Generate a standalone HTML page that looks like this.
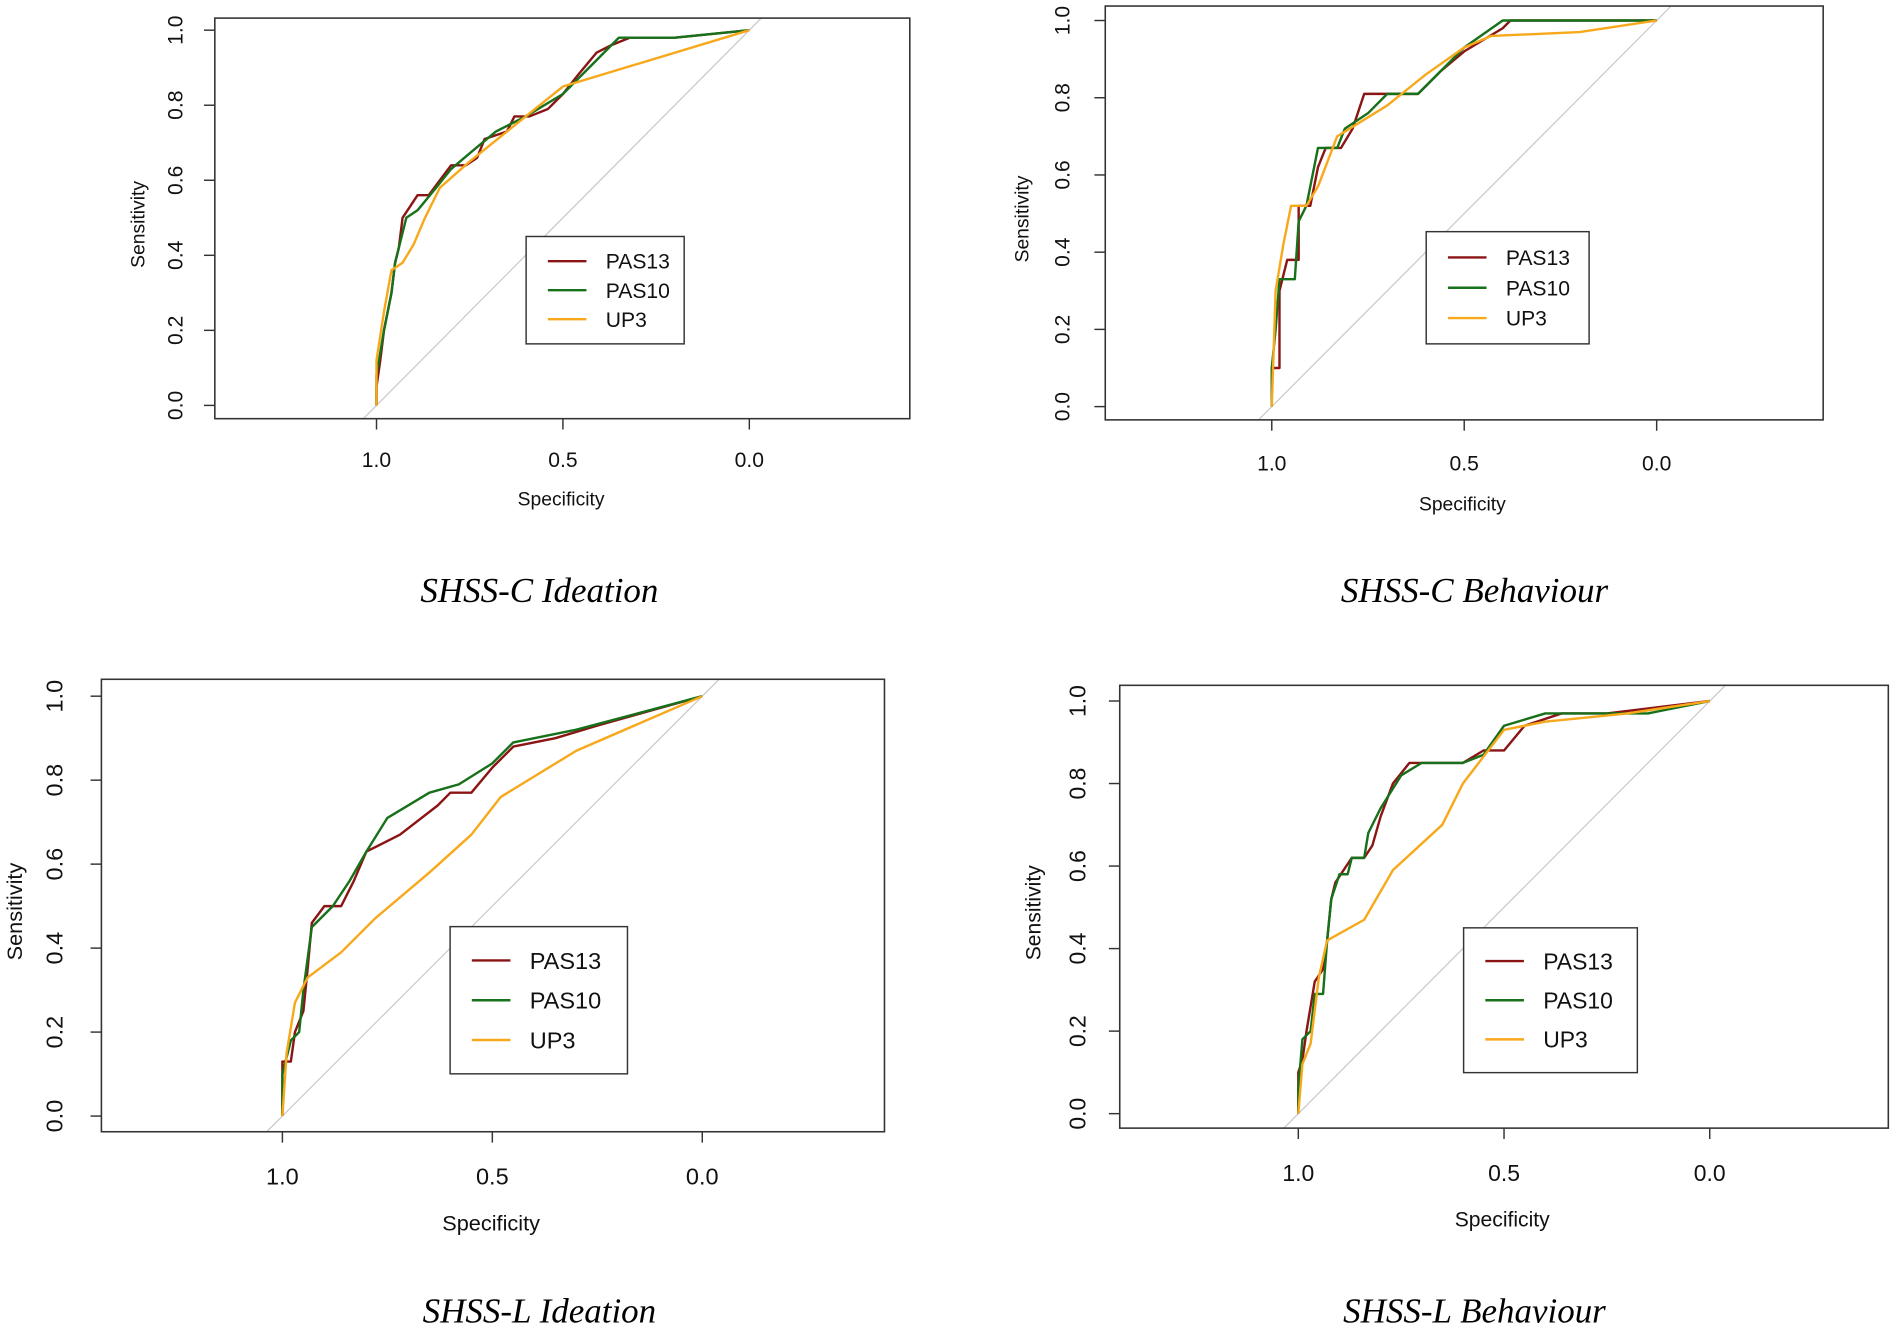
<!DOCTYPE html>
<html><head><meta charset="utf-8"><style>
html,body{margin:0;padding:0;background:#fff;}
svg{display:block;}
</style></head><body>
<svg id="fig" width="1892" height="1333" viewBox="0 0 1568 1104.8" xmlns="http://www.w3.org/2000/svg"></svg>
<script>
// ---- data (specificity / sensitivity pairs) ----
const xTicks = [1.0, 0.5, 0.0];
const xTickLabels = ["1.0", "0.5", "0.0"];
const yTicks = [0, 0.2, 0.4, 0.6, 0.8, 1.0];
const yTickLabels = ["0.0", "0.2", "0.4", "0.6", "0.8", "1.0"];
const seriesNames = ["PAS13", "PAS10", "UP3"];
const panelTitles = ["SHSS-C Ideation", "SHSS-C Behaviour", "SHSS-L Ideation", "SHSS-L Behaviour"];

const p1Pas13Spec = [1,1,0.99,0.98,0.96,0.95,0.94,0.93,0.91,0.89,0.86,0.83,0.8,0.76,0.73,0.71,0.68,0.65,0.63,0.59,0.54,0.5,0.46,0.41,0.37,0.32,0.2,0];
const p1Pas13Sens = [0,0.05,0.12,0.2,0.3,0.38,0.42,0.5,0.53,0.56,0.56,0.6,0.64,0.64,0.66,0.71,0.72,0.73,0.77,0.77,0.79,0.83,0.88,0.94,0.96,0.98,0.98,1];
const p1Pas10Spec = [1,1,0.98,0.96,0.95,0.92,0.89,0.84,0.8,0.74,0.68,0.6,0.5,0.4,0.35,0.2,0];
const p1Pas10Sens = [0,0.08,0.2,0.3,0.38,0.5,0.52,0.58,0.63,0.68,0.73,0.77,0.83,0.93,0.98,0.98,1];
const p1Up3Spec = [1,1,0.98,0.96,0.93,0.9,0.87,0.83,0.75,0.65,0.5,0];
const p1Up3Sens = [0,0.12,0.25,0.36,0.38,0.43,0.5,0.58,0.65,0.73,0.85,1];

const p2Pas13Spec = [1,1,0.98,0.98,0.96,0.93,0.93,0.9,0.88,0.86,0.82,0.79,0.76,0.62,0.56,0.5,0.4,0.38,0];
const p2Pas13Sens = [0,0.1,0.1,0.3,0.38,0.38,0.52,0.52,0.62,0.67,0.67,0.72,0.81,0.81,0.87,0.92,0.98,1,1];
const p2Pas10Spec = [1,1,0.99,0.98,0.94,0.93,0.91,0.89,0.88,0.83,0.81,0.75,0.7,0.62,0.5,0.4,0];
const p2Pas10Sens = [0,0.1,0.2,0.33,0.33,0.48,0.52,0.62,0.67,0.67,0.72,0.76,0.81,0.81,0.93,1,1];
const p2Up3Spec = [1,0.99,0.97,0.95,0.91,0.88,0.83,0.7,0.6,0.5,0.43,0.2,0];
const p2Up3Sens = [0,0.3,0.42,0.52,0.52,0.57,0.7,0.78,0.86,0.93,0.96,0.97,1];

const p3Pas13Spec = [1,1,0.98,0.97,0.95,0.94,0.93,0.9,0.86,0.83,0.8,0.72,0.63,0.6,0.55,0.5,0.45,0.35,0.25,0];
const p3Pas13Sens = [0,0.13,0.13,0.2,0.25,0.35,0.46,0.5,0.5,0.56,0.63,0.67,0.74,0.77,0.77,0.83,0.88,0.9,0.93,1];
const p3Pas10Spec = [1,1,0.98,0.96,0.95,0.93,0.88,0.84,0.8,0.75,0.65,0.58,0.5,0.45,0.3,0];
const p3Pas10Sens = [0,0.1,0.18,0.2,0.3,0.45,0.5,0.56,0.63,0.71,0.77,0.79,0.84,0.89,0.92,1];
const p3Up3Spec = [1,0.99,0.97,0.94,0.86,0.78,0.65,0.55,0.48,0.3,0];
const p3Up3Sens = [0,0.15,0.27,0.33,0.39,0.47,0.58,0.67,0.76,0.87,1];

const p4Pas13Spec = [1,1,0.99,0.98,0.97,0.96,0.94,0.93,0.92,0.91,0.89,0.87,0.84,0.82,0.8,0.77,0.73,0.6,0.55,0.5,0.45,0.36,0.25,0];
const p4Pas13Sens = [0,0.1,0.13,0.2,0.26,0.32,0.35,0.42,0.52,0.56,0.59,0.62,0.62,0.65,0.72,0.8,0.85,0.85,0.88,0.88,0.94,0.97,0.97,1];
const p4Pas10Spec = [1,1,0.99,0.97,0.96,0.94,0.93,0.92,0.91,0.9,0.88,0.87,0.84,0.83,0.8,0.75,0.7,0.6,0.55,0.5,0.4,0.25,0.15,0];
const p4Pas10Sens = [0,0.06,0.18,0.2,0.29,0.29,0.42,0.52,0.55,0.58,0.58,0.62,0.62,0.68,0.74,0.82,0.85,0.85,0.87,0.94,0.97,0.97,0.97,1];
const p4Up3Spec = [1,0.99,0.97,0.95,0.93,0.84,0.77,0.65,0.6,0.5,0.4,0.2,0];
const p4Up3Sens = [0,0.12,0.17,0.33,0.42,0.47,0.59,0.7,0.8,0.93,0.95,0.97,1];

const colors = ["#8b1515", "#17701a", "#f7a81b"];

// ---- layout ----
const panels = [
  {box:[178,15,754,347], x1:312, x0:621, y0:336, y1:25, ytx:146, ylx:115, xlab:381, spec:[465,413], title:[447,489], leg:[436,196,567,285], fs:17.5, lfs:17.5,
   s:[[p1Pas13Spec,p1Pas13Sens],[p1Pas10Spec,p1Pas10Sens],[p1Up3Spec,p1Up3Sens]]},
  {box:[916,5,1511,348], x1:1054, x0:1373, y0:337, y1:17, ytx:881, ylx:848, xlab:384, spec:[1212,417], title:[1222,489], leg:[1182,192,1317,285], fs:17.5, lfs:17.5,
   s:[[p2Pas13Spec,p2Pas13Sens],[p2Pas10Spec,p2Pas10Sens],[p2Up3Spec,p2Up3Sens]]},
  {box:[84,563,733,938], x1:234, x0:582, y0:925, y1:577, ytx:45, ylx:12, xlab:975, spec:[407,1013], title:[447,1086], leg:[373,768,520,890], fs:19.5, lfs:19.5,
   s:[[p3Pas13Spec,p3Pas13Sens],[p3Pas10Spec,p3Pas10Sens],[p3Up3Spec,p3Up3Sens]]},
  {box:[928,568,1565,935], x1:1076, x0:1417, y0:923, y1:581, ytx:893, ylx:857, xlab:972, spec:[1245,1010], title:[1222,1086], leg:[1213,769,1357,889], fs:19, lfs:19,
   s:[[p4Pas13Spec,p4Pas13Sens],[p4Pas10Spec,p4Pas10Sens],[p4Up3Spec,p4Up3Sens]]}
];

const NS = "http://www.w3.org/2000/svg";
const svg = document.getElementById("fig");
function mk(tag, attrs, parent){
  const e = document.createElementNS(NS, tag);
  for (const k in attrs) e.setAttribute(k, attrs[k]);
  (parent||svg).appendChild(e);
  return e;
}
const SANS = '"Liberation Sans", Arial, sans-serif';

panels.forEach((p, i) => {
  const g = mk("g", {});
  
  
  const xs = v => p.x0 + (p.x1 - p.x0) * v;
  const ys = v => p.y0 + (p.y1 - p.y0) * v;
  const [bx0, by0, bx1, by1] = p.box;
  const cid = "clip" + i;
  const cp = mk("clipPath", {id: cid}, g);
  mk("rect", {x: bx0, y: by0, width: bx1 - bx0, height: by1 - by0}, cp);

  const diag = mk("line", {x1: xs(1.08), y1: ys(-0.08), x2: xs(-0.08), y2: ys(1.08), stroke: "#c8c8c8", "stroke-width": 1, "clip-path": "url(#" + cid + ")"}, g);
  
  

  p.s.forEach((pair, k) => {
    const [sx, sy] = pair;
    const pts = sx.map((v, j) => xs(v).toFixed(1) + "," + ys(sy[j]).toFixed(1)).join(" ");
    const pl = mk("polyline", {points: pts, fill: "none", stroke: colors[k], "stroke-width": 2, "stroke-linejoin": "round"}, g);
    
    
  });

  const box = mk("rect", {x: bx0, y: by0, width: bx1 - bx0, height: by1 - by0, fill: "none", stroke: "#333", "stroke-width": 1.3}, g);
  
  

  xTicks.forEach((t, j) => {
    mk("line", {x1: xs(t), y1: by1, x2: xs(t), y2: by1 + 9, stroke: "#333", "stroke-width": 1.2}, g);
    const tx = mk("text", {x: xs(t), y: p.xlab + p.fs*0.35, "font-family": SANS, "font-size": p.fs, "text-anchor": "middle", fill: "#111"}, g);
    tx.textContent = xTickLabels[j];
    
    
  });
  yTicks.forEach((t, j) => {
    mk("line", {x1: bx0, y1: ys(t), x2: bx0 - 9, y2: ys(t), stroke: "#333", "stroke-width": 1.2}, g);
    const ty = mk("text", {x: p.ytx, y: ys(t), "font-family": SANS, "font-size": p.fs, "text-anchor": "middle", fill: "#111",
      transform: "rotate(-90 " + p.ytx + " " + ys(t) + ")", "dominant-baseline": "central"}, g);
    ty.textContent = yTickLabels[j];
    
    
  });
  const ylc = (by0 + by1) / 2 + 5;
  const yl = mk("text", {x: p.ylx, y: ylc, "font-family": SANS, "font-size": p.fs - 1.5, "text-anchor": "middle", fill: "#111",
    transform: "rotate(-90 " + p.ylx + " " + ylc + ")", "dominant-baseline": "central"}, g);
  yl.textContent = "Sensitivity";
  
  
  const xl = mk("text", {x: p.spec[0], y: p.spec[1] + p.fs*0.35, "font-family": SANS, "font-size": p.fs - 1.5, "text-anchor": "middle", fill: "#111"}, g);
  xl.textContent = "Specificity";
  
  

  const [lx0, ly0, lx1, ly1] = p.leg;
  const lg = mk("g", {}, g);
  
  
  mk("rect", {x: lx0, y: ly0, width: lx1 - lx0, height: ly1 - ly0, fill: "#fff", stroke: "#333", "stroke-width": 1.2}, lg);
  const step = (ly1 - ly0) / 3.7;
  seriesNames.forEach((n, k) => {
    const yy = ly0 + step * (0.85 + k);
    const e = mk("g", {}, lg);
    
    
    mk("line", {x1: lx0 + 18, y1: yy, x2: lx0 + 50, y2: yy, stroke: colors[k], "stroke-width": 2}, e);
    const t = mk("text", {x: lx0 + 66, y: yy + p.lfs*0.36, "font-family": SANS, "font-size": p.lfs, fill: "#111"}, e);
    t.textContent = n;
  });

  const ti = mk("text", {x: p.title[0], y: p.title[1] + 10, "font-family": '"Liberation Serif", "Times New Roman", serif', "font-style": "italic", "font-size": 29, "text-anchor": "middle", fill: "#000"}, g);
  ti.textContent = panelTitles[i];
  
  
});
</script>
</body></html>
